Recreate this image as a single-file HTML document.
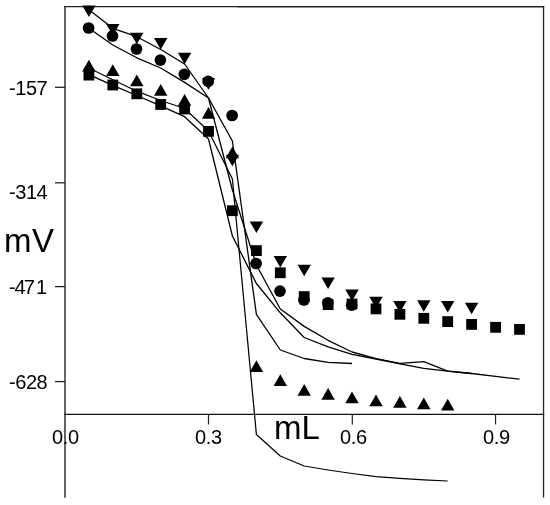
<!DOCTYPE html>
<html><head><meta charset="utf-8"><title>chart</title>
<style>
html,body{margin:0;padding:0;background:#fff;}
body{width:550px;height:505px;overflow:hidden;position:relative;font-family:"Liberation Sans",sans-serif;color:#000;}
svg{position:absolute;left:0;top:0;}
.t{position:absolute;white-space:nowrap;line-height:1;will-change:transform;}
.yl{letter-spacing:-0.45px;}
.xl{letter-spacing:-0.3px;}
.s{font-size:20px;}
.b{font-size:33px;}
</style></head><body>
<svg width="550" height="505" viewBox="0 0 550 505">
<g stroke="#222" fill="none">
<line x1="65" y1="6" x2="65" y2="497.7" stroke-width="1.4"/>
<line x1="543.55" y1="6" x2="543.55" y2="497.5" stroke-width="1.3"/>
<line x1="64.3" y1="414.35" x2="544.2" y2="414.35" stroke-width="1.4" stroke="#111"/>
<line x1="64.3" y1="6.6" x2="237" y2="6.6" stroke-width="1.1"/>
<line x1="237" y1="6.8" x2="544.2" y2="6.8" stroke-width="1.6"/>
</g>
<g stroke="#222" stroke-width="1.2" fill="none">
<line x1="208.5" y1="414" x2="208.5" y2="424.4"/>
<line x1="352.3" y1="414" x2="352.3" y2="424.4"/>
<line x1="495.55" y1="414" x2="495.55" y2="424.4"/>
<line x1="55" y1="87.3" x2="65" y2="87.3" stroke-width="1.3"/>
<line x1="55" y1="182.8" x2="65" y2="182.8" stroke-width="1.3"/>
<line x1="55" y1="286.6" x2="65" y2="286.6" stroke-width="1.3"/>
<line x1="55" y1="381.6" x2="65" y2="381.6" stroke-width="1.3"/>
</g>
<g fill="#000" stroke="none">
<polyline points="88.9,9.7 112.8,28.3 136.8,36.7 160.7,49.5 184.6,64.0 208.5,98.0 232.4,190.0 256.4,265.0 280.3,309.0 304.2,326.4 328.1,340.3 352.0,352.0 376.0,358.6 399.9,363.4 423.8,361.7 447.7,371.1 471.6,373.5" fill="none" stroke="#000" stroke-width="1.3" stroke-linejoin="round"/>
<polyline points="88.9,28.3 112.8,45.0 136.8,57.8 160.7,68.0 184.6,82.4 208.5,98.0 232.4,141.0 256.4,314.4 280.3,350.0 304.2,358.5 328.1,362.4 352.0,363.5" fill="none" stroke="#000" stroke-width="1.3" stroke-linejoin="round"/>
<polyline points="88.9,68.0 112.8,79.7 136.8,91.2 160.7,100.5 184.6,108.5 208.5,131.0 232.4,179.0 256.4,434.5 280.3,456.0 304.2,466.0 328.1,470.0 352.0,473.5 376.0,476.7 399.9,478.3 423.8,479.8 447.7,481.0" fill="none" stroke="#000" stroke-width="1.25" stroke-linejoin="round"/>
<polyline points="88.9,74.7 112.8,85.3 136.8,95.5 160.7,105.8 184.6,116.7 208.5,139.0 232.4,236.0 256.4,283.5 280.3,312.8 304.2,337.5 328.1,346.8 352.0,354.4 376.0,359.0 399.9,363.8 423.8,368.3 447.7,371.1 471.6,373.5 495.6,376.3 519.5,379.2" fill="none" stroke="#000" stroke-width="1.3" stroke-linejoin="round"/>
<polygon points="82.2,5.4 95.6,5.4 88.9,16.9"/>
<polygon points="106.1,24.1 119.5,24.1 112.8,35.6"/>
<polygon points="130.1,32.7 143.5,32.7 136.8,44.2"/>
<polygon points="154.0,38.0 167.4,38.0 160.7,49.5"/>
<polygon points="177.9,52.7 191.3,52.7 184.6,64.2"/>
<polygon points="201.8,78.3 215.2,78.3 208.5,89.8"/>
<polygon points="225.7,154.8 239.1,154.8 232.4,166.3"/>
<polygon points="249.7,221.5 263.1,221.5 256.4,233.0"/>
<polygon points="273.6,256.0 287.0,256.0 280.3,267.5"/>
<polygon points="297.5,264.7 310.9,264.7 304.2,276.2"/>
<polygon points="321.4,277.5 334.8,277.5 328.1,289.0"/>
<polygon points="345.3,289.6 358.7,289.6 352.0,301.1"/>
<polygon points="369.3,296.7 382.7,296.7 376.0,308.2"/>
<polygon points="393.2,301.1 406.6,301.1 399.9,312.6"/>
<polygon points="417.1,300.3 430.5,300.3 423.8,311.8"/>
<polygon points="441.0,301.1 454.4,301.1 447.7,312.6"/>
<polygon points="464.9,302.7 478.3,302.7 471.6,314.2"/>
<polygon points="82.2,71.6 95.6,71.6 88.9,59.8"/>
<polygon points="106.1,76.1 119.5,76.1 112.8,64.3"/>
<polygon points="130.1,86.3 143.5,86.3 136.8,74.5"/>
<polygon points="154.0,95.7 167.4,95.7 160.7,83.9"/>
<polygon points="177.9,105.8 191.3,105.8 184.6,94.0"/>
<polygon points="201.8,118.8 215.2,118.8 208.5,107.0"/>
<polygon points="225.7,158.2 239.1,158.2 232.4,146.4"/>
<polygon points="249.7,372.0 263.1,372.0 256.4,360.2"/>
<polygon points="273.6,386.0 287.0,386.0 280.3,374.2"/>
<polygon points="297.5,395.8 310.9,395.8 304.2,384.0"/>
<polygon points="321.4,399.8 334.8,399.8 328.1,388.0"/>
<polygon points="345.3,403.3 358.7,403.3 352.0,391.5"/>
<polygon points="369.3,406.3 382.7,406.3 376.0,394.5"/>
<polygon points="393.2,407.8 406.6,407.8 399.9,396.0"/>
<polygon points="417.1,409.3 430.5,409.3 423.8,397.5"/>
<polygon points="441.0,410.5 454.4,410.5 447.7,398.7"/>
<circle cx="88.6" cy="28.0" r="5.85"/>
<circle cx="112.5" cy="36.0" r="5.85"/>
<circle cx="136.5" cy="49.0" r="5.85"/>
<circle cx="160.4" cy="60.1" r="5.85"/>
<circle cx="184.3" cy="74.3" r="5.85"/>
<circle cx="208.2" cy="81.4" r="5.85"/>
<circle cx="232.1" cy="115.5" r="5.85"/>
<circle cx="256.1" cy="263.5" r="5.85"/>
<circle cx="280.0" cy="291.2" r="5.85"/>
<circle cx="303.9" cy="300.0" r="5.85"/>
<circle cx="327.8" cy="302.8" r="5.85"/>
<circle cx="351.7" cy="305.2" r="5.85"/>
<rect x="83.5" y="69.7" width="10.8" height="10.8"/>
<rect x="107.4" y="79.6" width="10.8" height="10.8"/>
<rect x="131.4" y="88.4" width="10.8" height="10.8"/>
<rect x="155.3" y="99.1" width="10.8" height="10.8"/>
<rect x="179.2" y="103.6" width="10.8" height="10.8"/>
<rect x="203.1" y="126.0" width="10.8" height="10.8"/>
<rect x="227.0" y="205.3" width="10.8" height="10.8"/>
<rect x="251.0" y="245.2" width="10.8" height="10.8"/>
<rect x="274.9" y="267.4" width="10.8" height="10.8"/>
<rect x="298.8" y="291.2" width="10.8" height="10.8"/>
<rect x="322.7" y="299.2" width="10.8" height="10.8"/>
<rect x="346.6" y="298.6" width="10.8" height="10.8"/>
<rect x="370.6" y="303.5" width="10.8" height="10.8"/>
<rect x="394.5" y="308.9" width="10.8" height="10.8"/>
<rect x="418.4" y="312.9" width="10.8" height="10.8"/>
<rect x="442.3" y="316.2" width="10.8" height="10.8"/>
<rect x="466.2" y="319.0" width="10.8" height="10.8"/>
<rect x="490.2" y="321.9" width="10.8" height="10.8"/>
<rect x="514.1" y="324.0" width="10.8" height="10.8"/>
</g>
</svg>
<div class="t s yl" id="y1" style="left:9px;top:78px;">-157</div>
<div class="t s yl" id="y2" style="left:9px;top:182px;">-314</div>
<div class="t s yl" id="y3" style="left:9px;top:277px;">-<span style="margin-left:-0.7px">4</span><span style="margin-left:-1.5px">7</span><span style="margin-left:1.6px">1</span></div>
<div class="t s yl" id="y4" style="left:9px;top:372px;">-628</div>
<div class="t s xl" id="x0" style="left:52.4px;top:426.5px;">0.0</div>
<div class="t s xl" id="x3" style="left:195.4px;top:426.5px;">0.3</div>
<div class="t s xl" id="x6" style="left:339.5px;top:426.5px;">0.6</div>
<div class="t s xl" id="x9" style="left:483.0px;top:426.5px;">0.9</div>
<div class="t b" id="mv" style="left:4.2px;top:223.6px;letter-spacing:0.6px;">mV</div>
<div class="t b" id="ml" style="left:274px;top:410.8px;">mL</div>
</body></html>
